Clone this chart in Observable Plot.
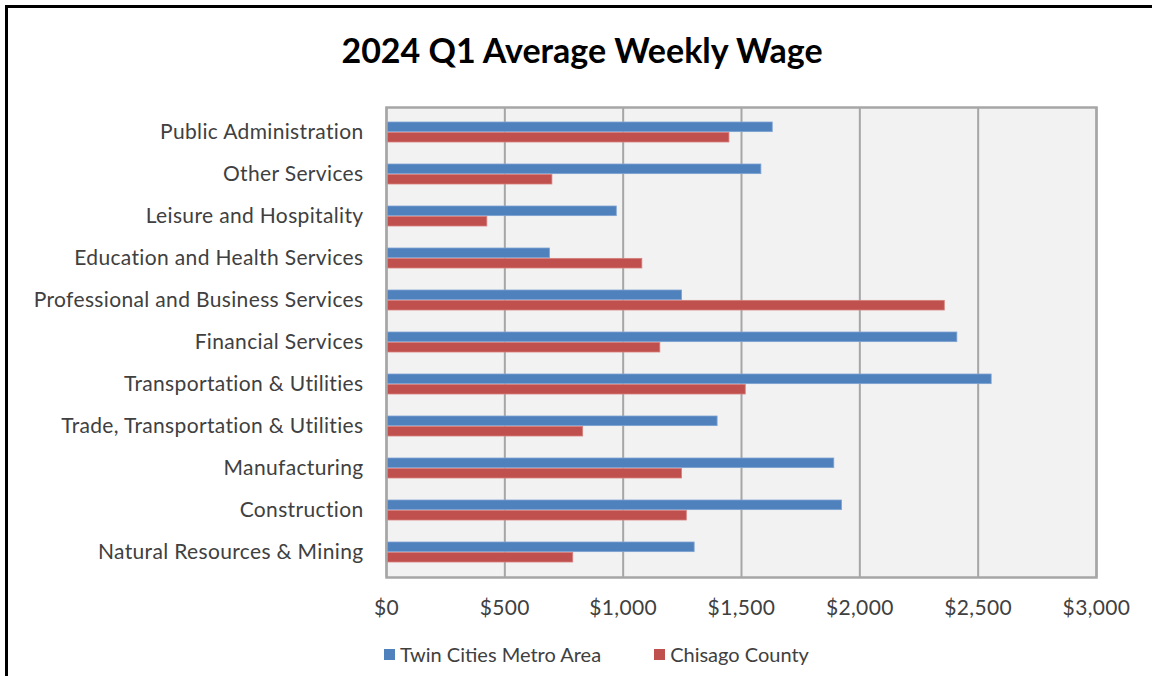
<!DOCTYPE html>
<html>
<head>
<meta charset="utf-8">
<script src="https://cdn.jsdelivr.net/npm/d3@7"></script>
<script src="https://cdn.jsdelivr.net/npm/@observablehq/plot@0.6"></script>
<style>
  html, body { margin: 0; padding: 0; background: #fff; overflow: hidden; }
  #wrap { position: relative; width: 1152px; height: 676px; overflow: hidden; font-family: Lato, "Open Sans", sans-serif; }
  #border { position: absolute; left: 5px; top: 5px; width: 1200px; height: 720px; border: 3px solid #000; box-sizing: border-box; }
  #title { position: absolute; left: 6px; width: 1152px; top: 29px; text-align: center; font-weight: bold; font-size: 34px; color: #000; }
  #chart { position: absolute; left: 0; top: 80px; }
  #legend { position: absolute; left: 384px; top: 642px; font-size: 20px; color: #404040; display: flex; align-items: center; }
  .sw { display: inline-block; width: 11px; height: 11px; margin-right: 5px; }
  .item { display: flex; align-items: center; margin-right: 53px; }
  #chart svg text { letter-spacing: 0.35px; }
</style>
</head>
<body>
<div id="wrap">
  <div id="border"></div>
  <div id="title"></div>
  <div id="chart"></div>
  <div id="legend"></div>
</div>
<script>
const titleText = "2024 Q1 Average Weekly Wage";
const categories = [
  "Public Administration",
  "Other Services",
  "Leisure and Hospitality",
  "Education and Health Services",
  "Professional and Business Services",
  "Financial Services",
  "Transportation & Utilities",
  "Trade, Transportation & Utilities",
  "Manufacturing",
  "Construction",
  "Natural Resources & Mining"
];
const seriesNames = ["Twin Cities Metro Area", "Chisago County"];
const twinCities = [1632, 1584, 973, 691, 1249, 2412, 2557, 1399, 1892, 1925, 1302];
const chisago = [1449, 701, 426, 1081, 2359, 1157, 1518, 831, 1249, 1269, 789];
const xTicks = [0, 500, 1000, 1500, 2000, 2500, 3000];
const colors = ["#4f81bd", "#c0504d"];

const data = categories.map((c, i) => ({category: c, twin: twinCities[i], chisago: chisago[i]}));
const fmt = d => "$" + d3.format(",")(d);

document.getElementById("title").textContent = titleText;

const chart = Plot.plot({
  width: 1152,
  height: 560,
  marginTop: 27,
  marginBottom: 63,
  marginLeft: 386,
  marginRight: 56,
  style: {fontFamily: "Lato, 'Open Sans', sans-serif", fontSize: "21px", color: "#404040", background: "transparent"},
  x: {domain: [0, 3000], label: null},
  y: {domain: categories, padding: 0, label: null},
  marks: [
    Plot.frame({fill: "#f2f2f2"}),
    Plot.gridX({ticks: xTicks, stroke: "#a6a6a6", strokeWidth: 2, strokeOpacity: 1}),
    Plot.barX(data, {x: "twin", y: "category", fill: colors[0], stroke: "#7fa3d3", strokeWidth: 0.8, insetTop: 11, insetBottom: 21.36}),
    Plot.barX(data, {x: "chisago", y: "category", fill: colors[1], stroke: "#d6807e", strokeWidth: 0.8, insetTop: 21.36, insetBottom: 11}),
    Plot.frame({stroke: "#a6a6a6", strokeWidth: 2.5}),
    Plot.axisX({ticks: xTicks, tickFormat: fmt, tickSize: 0, tickPadding: 23, fill: "#404040", label: null}),
    Plot.axisY({tickSize: 0, tickPadding: 23, fill: "#404040", label: null})
  ]
});
document.getElementById("chart").appendChild(chart);

const legend = document.getElementById("legend");
seriesNames.forEach((name, i) => {
  const item = document.createElement("span");
  item.className = "item";
  const sw = document.createElement("span");
  sw.className = "sw";
  sw.style.background = colors[i];
  item.appendChild(sw);
  item.appendChild(document.createTextNode(name));
  legend.appendChild(item);
});
</script>
</body>
</html>
